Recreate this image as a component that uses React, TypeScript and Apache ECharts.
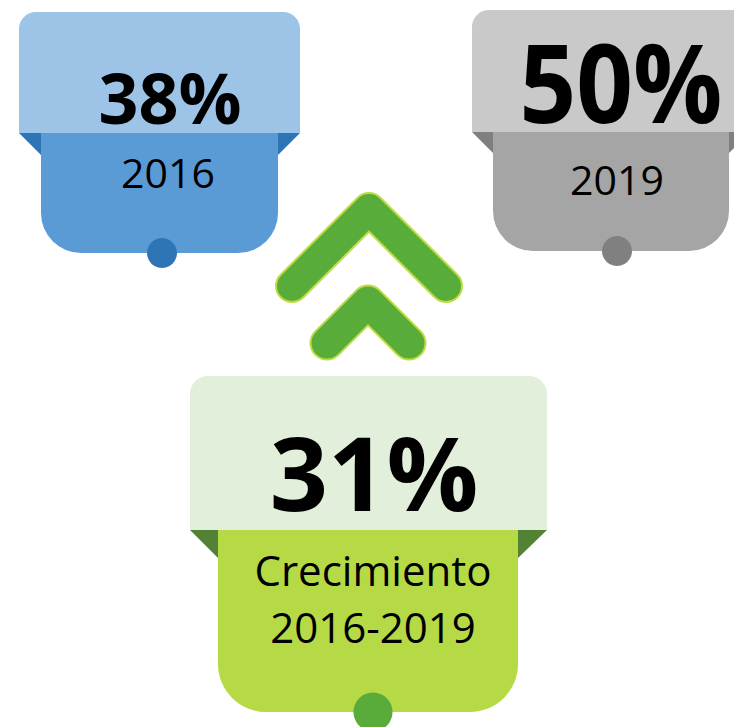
import React, { useEffect, useRef } from "react";
import * as echarts from "echarts";

// Data
const cardValues = ["38%", "50%", "31%"];
const cardLabels = ["2016", "2019", "Crecimiento\n2016-2019"];

const W = 734;
const H = 727;

export default function App() {
  const ref = useRef<HTMLDivElement>(null);

  useEffect(() => {
    if (!ref.current) return;
    const chart = echarts.init(ref.current, null, { renderer: "svg" });

    const bigFont = (size: number) => ({
      fontFamily: "'Open Sans', sans-serif",
      fontWeight: "bold",
      fontSize: size,
      fill: "#000",
      align: "center",
      verticalAlign: "middle",
    });
    const regFont = (size: number) => ({
      fontFamily: "'Open Sans', sans-serif",
      fontWeight: "normal",
      fontSize: size,
      fill: "#000",
      align: "center",
      verticalAlign: "middle",
    });

    const card = (c: any) => [
      {
        type: "rect",
        shape: { x: c.tx, y: c.ty, width: c.tw, height: c.th, r: [c.tr, c.tr, 0, 0] },
        style: { fill: c.topColor },
      },
      {
        type: "polygon",
        shape: {
          points: [
            [c.tx, c.ty + c.th],
            [c.bx, c.ty + c.th],
            [c.bx, c.ty + c.th + (c.bx - c.tx)],
          ],
        },
        style: { fill: c.darkColor },
      },
      {
        type: "polygon",
        shape: {
          points: [
            [c.bx + c.bw, c.ty + c.th],
            [c.tx + c.tw, c.ty + c.th],
            [c.bx + c.bw, c.ty + c.th + (c.bx - c.tx)],
          ],
        },
        style: { fill: c.darkColor },
      },
      {
        type: "rect",
        shape: { x: c.bx, y: c.ty + c.th, width: c.bw, height: c.bh, r: [0, 0, c.br, c.br] },
        style: { fill: c.bottomColor },
      },
      {
        type: "circle",
        shape: { cx: c.cx, cy: c.ty + c.th + c.bh, r: c.cr },
        style: { fill: c.circleColor },
      },
    ];

    const chevron = (pts: number[][], w: number) => [
      {
        type: "polyline",
        shape: { points: pts },
        style: { fill: "none", stroke: "#BEDC42", lineWidth: w, lineCap: "round", lineJoin: "round" },
      },
      {
        type: "polyline",
        shape: { points: pts },
        style: { fill: "none", stroke: "#58AC3A", lineWidth: w - 4, lineCap: "round", lineJoin: "round" },
      },
    ];

    const elements: any[] = [
      ...card({
        tx: 19, ty: 12, tw: 281, th: 121, tr: 17,
        bx: 41, bw: 237, bh: 120, br: 40,
        cx: 162, cr: 15,
        topColor: "#9DC3E6", bottomColor: "#5B9BD5", darkColor: "#2E75B6", circleColor: "#2E75B6",
      }),
      ...card({
        tx: 472, ty: 10, tw: 278, th: 122, tr: 17,
        bx: 493, bw: 236, bh: 119, br: 40,
        cx: 617, cr: 15,
        topColor: "#C9C9C9", bottomColor: "#A5A5A5", darkColor: "#7F7F7F", circleColor: "#808080",
      }),
      ...chevron([[292, 286], [369, 209], [446, 286]], 34),
      ...chevron([[327, 343], [368, 302], [409, 343]], 35),
      ...card({
        tx: 190, ty: 376, tw: 357, th: 154, tr: 18,
        bx: 218, bw: 300, bh: 182, br: 48,
        cx: 373, cr: 19.5,
        topColor: "#E2EFDA", bottomColor: "#B6DA45", darkColor: "#548235", circleColor: "#5AAC3A",
      }),
      { type: "text", x: 170, y: 97, style: { text: cardValues[0], ...bigFont(70) } },
      { type: "text", x: 621, y: 81, scaleX: 0.91, style: { text: cardValues[1], ...bigFont(109) } },
      { type: "text", x: 374, y: 471, style: { text: cardValues[2], ...bigFont(102) } },
      { type: "text", x: 168, y: 172, style: { text: cardLabels[0], ...regFont(41) } },
      { type: "text", x: 617, y: 179, style: { text: cardLabels[1], ...regFont(41) } },
      {
        type: "text",
        x: 373,
        y: 598,
        style: { text: cardLabels[2], ...regFont(42), lineHeight: 57 },
      },
    ];

    chart.setOption({
      animation: false,
      backgroundColor: "#ffffff",
      graphic: { elements },
    });

    return () => chart.dispose();
  }, []);

  return (
    <div
      ref={ref}
      style={{ position: "absolute", left: 0, top: 0, width: W, height: H }}
    />
  );
}
